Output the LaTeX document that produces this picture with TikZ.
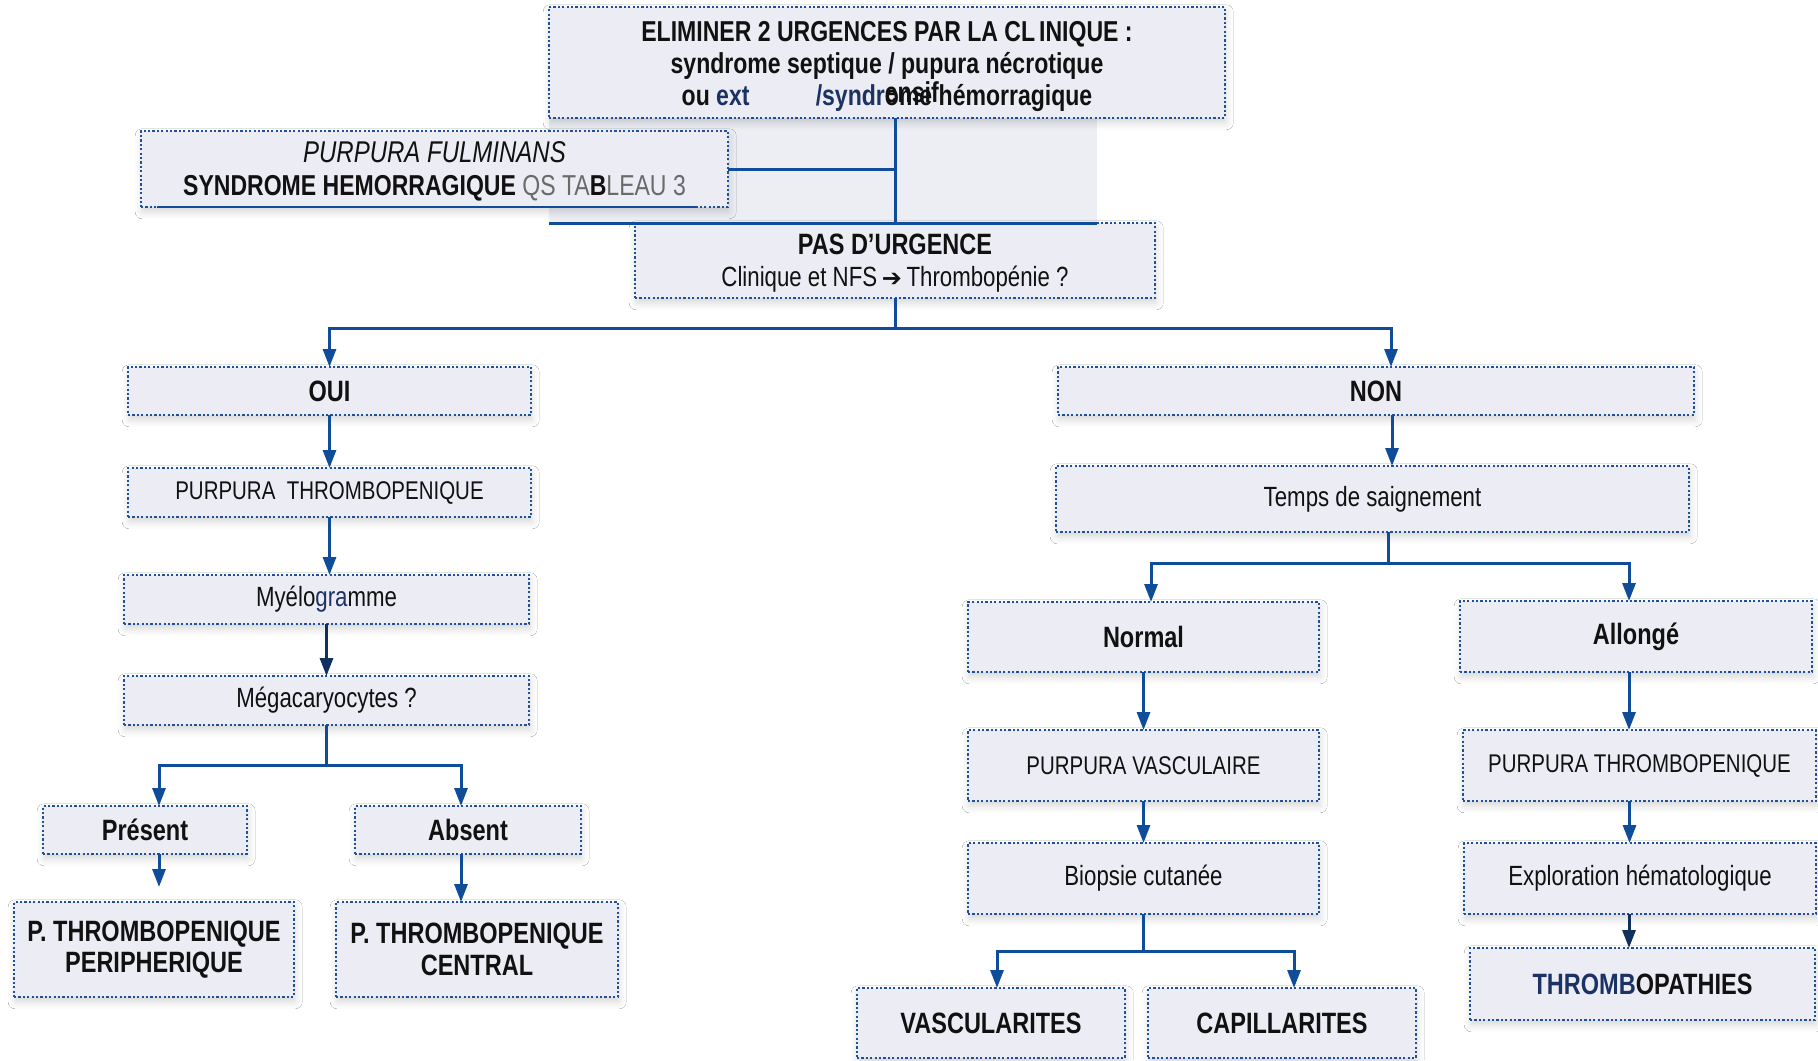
\documentclass[tikz,border=0pt]{standalone}
\usepackage{fontspec}
\setmainfont{Liberation Sans}[FakeStretch=0.8]
\newfontfamily\symfont{DejaVu Sans}
\usetikzlibrary{arrows.meta,calc,shadows.blur}

\definecolor{boxfill}{HTML}{ECECF4}
\definecolor{bord}{HTML}{1F5199}
\definecolor{lnk}{HTML}{0F4C9A}
\definecolor{darklnk}{HTML}{12305E}
\definecolor{navy}{HTML}{1B3263}
\definecolor{txt}{HTML}{111111}
\definecolor{patch}{HTML}{EDEEF3}
\definecolor{lightgray}{HTML}{6A6A6A}

\tikzset{
  box/.style={draw=bord, fill=boxfill, line width=1.3pt,
    dash pattern=on 1.1pt off 1.1pt, inner sep=0pt, outer sep=0pt,
    align=center, text=txt,
    blur shadow={shadow xshift=0.6pt, shadow yshift=-2.4pt,
      shadow blur radius=3.5pt, shadow opacity=16}},
  rg/.style={font=\fontsize{13.9}{16}\selectfont},
  rgs/.style={font=\fontsize{12.8}{15}\selectfont},
  bd/.style={font=\fontsize{14.7}{15.7}\selectfont\bfseries},
  link/.style={draw=lnk, line width=1.5pt},
  arr/.style={link, -{Triangle[length=9pt,width=6.5pt]}},
  darr/.style={arr, draw=darklnk},
}

% \placebox[style]{name}{x1}{y1}{x2}{y2}{text}: box given by its corners
\newcommand\placebox[7][]{%
  \node[box,#1, minimum width={(#5-#3)*0.5pt}, minimum height={(#6-#4)*0.5pt}]
    (#2) at ({(#3+#5)/2},{(#4+#6)/2}) {#7};}

\begin{document}
\begin{tikzpicture}[x=0.5pt,y=-0.5pt]
\useasboundingbox[fill=white] (0,0) rectangle (1818,1060);

% light panel behind the first junction
\fill[patch] (549,118) rectangle (1097,223);
\coordinate (panelL) at (549,223);
\coordinate (panelR) at (1097,223);

% ---- top of the tree
\placebox[font=\fontsize{14.4}{16}\selectfont\bfseries]{top}{549}{7}{1225}{118}{%
  \rule{0pt}{14pt}ELIMINER 2 URGENCES PAR LA CL\kern2pt INIQUE :\\
  syndrome septique / pupura nécrotique\\
  ou \textcolor{navy}{ext}\hspace{2.3em}\textcolor{navy}{/syndr}\rlap{\smash{\raisebox{1.5pt}{ensif}}}ome hémorragique}

\placebox[font=\fontsize{14.4}{15.7}\selectfont]{pf}{141}{131}{728}{207}{%
  \rule{0pt}{13pt}{\fontsize{15}{15.7}\selectfont\itshape PURPURA FULMINANS}\\[0.6pt]
  {\bfseries SYNDROME HEMORRAGIQUE}
  {\color{lightgray}QS TA\textcolor{txt}{\bfseries B}LEAU 3}}
\draw[link, line width=1.2pt] ([xshift=7.75pt]pf.south west) -- ([xshift=-16pt]pf.south east);

\placebox[font=\fontsize{13.9}{15.7}\selectfont]{pas}{635}{223}{1155}{298}{%
  \rule{0pt}{13pt}{\fontsize{14.7}{15.7}\selectfont\bfseries PAS D'URGENCE}\\[0.6pt]
  Clinique et NFS\,{\symfont\fontsize{12}{12}\selectfont ➔}\,Thrombopénie ?}

\draw[link] (panelL) -- (panelR);
\draw[link] (top.south -| pas.north) -- (pas.north);
\draw[link] (pf.east) -- (pf.east -| pas.north);

% ---- left branch
\placebox[bd]{oui}{128}{367}{531}{415}{OUI}
\placebox[rgs]{pt1}{128}{468}{531}{517}{PURPURA\ \ THROMBOPENIQUE}
\placebox[rg]{myelo}{124}{575}{529}{624}{Myélo\textcolor{navy}{gra}mme}
\placebox[rg]{mega}{124}{676}{529}{725}{Mégacaryocytes ?}
\placebox[bd]{pres}{43}{806}{247}{854}{Présent}
\placebox[bd]{abs}{355}{806}{581}{854}{Absent}
\placebox[bd]{ptp}{14}{902}{294}{997}{P. THROMBOPENIQUE\\PERIPHERIQUE}
\placebox[bd]{ptc}{336}{902}{618}{997}{P. THROMBOPENIQUE\\CENTRAL}

% ---- right branch
\placebox[bd]{non}{1058}{367}{1694}{415}{NON}
\placebox[rg]{temps}{1056}{466}{1689}{532}{Temps de saignement}
\placebox[bd]{normal}{968}{602}{1319}{672}{Normal}
\placebox[bd]{allonge}{1460}{601}{1812}{672}{Allongé}
\placebox[rgs]{pv}{968}{730}{1319}{801}{PURPURA VASCULAIRE}
\placebox[rgs]{ptr}{1463}{730}{1816}{801}{PURPURA THROMBOPENIQUE}
\placebox[rg]{bio}{968}{843}{1319}{914}{Biopsie cutanée}
\placebox[rg]{expl}{1464}{843}{1816}{914}{Exploration hématologique}
\placebox[bd]{vasc}{857}{988}{1125}{1058}{VASCULARITES}
\placebox[bd]{capil}{1148}{988}{1416}{1058}{CAPILLARITES}
\placebox[bd]{thromb}{1470}{948}{1815}{1020}{\textcolor{navy}{THROMB}OPATHIES}

% ---- connectors
\draw[link] (pas.south) -- ++(0,30) coordinate (j1);
\draw[arr] (j1) -| (oui.north);
\draw[arr] (j1) -| ([xshift=7.5pt]non.north);

\draw[arr] (oui.south) -- (pt1.north);
\draw[arr] (pt1.south) -- (pt1.south |- myelo.north);
\draw[darr] (myelo.south) -- (mega.north);
\draw[link] (mega.south) -- ++(0,40) coordinate (j2);
\draw[arr] (j2) -| ([xshift=7pt]pres.north);
\draw[arr] (j2) -| ([xshift=-3.5pt]abs.north);
\draw[arr] ([xshift=7pt]pres.south) -- ([xshift=2.5pt,yshift=7.5pt]ptp.north);
\draw[arr] ([xshift=-3.5pt]abs.south) -- ([xshift=-3.5pt]abs.south |- ptc.north);

\draw[arr] ([xshift=8pt]non.south) -- ([xshift=8pt]non.south |- temps.north);
\draw[link] ([xshift=8pt]temps.south) -- ++(0,31.5) coordinate (j3);
\draw[arr] (j3) -| ([xshift=3.75pt]normal.north);
\draw[arr] (j3) -| ([xshift=-3.5pt]allonge.north);
\draw[arr] (normal.south) -- (pv.north);
\draw[arr] (pv.south) -- (bio.north);
\draw[arr] ([xshift=-3.5pt]allonge.south) -- ([xshift=-3.5pt]allonge.south |- ptr.north);
\draw[arr] ([xshift=-5pt]ptr.south) -- ([xshift=-5pt]ptr.south |- expl.north);
\draw[link] (bio.south) -- ++(0,37) coordinate (j4);
\draw[arr] (j4) -| ([xshift=3pt]vasc.north);
\draw[arr] (j4) -| ([xshift=6pt]capil.north);
\draw[darr] ([xshift=-5.5pt]expl.south) -- ([xshift=-5.5pt]expl.south |- thromb.north);
\end{tikzpicture}
\end{document}
